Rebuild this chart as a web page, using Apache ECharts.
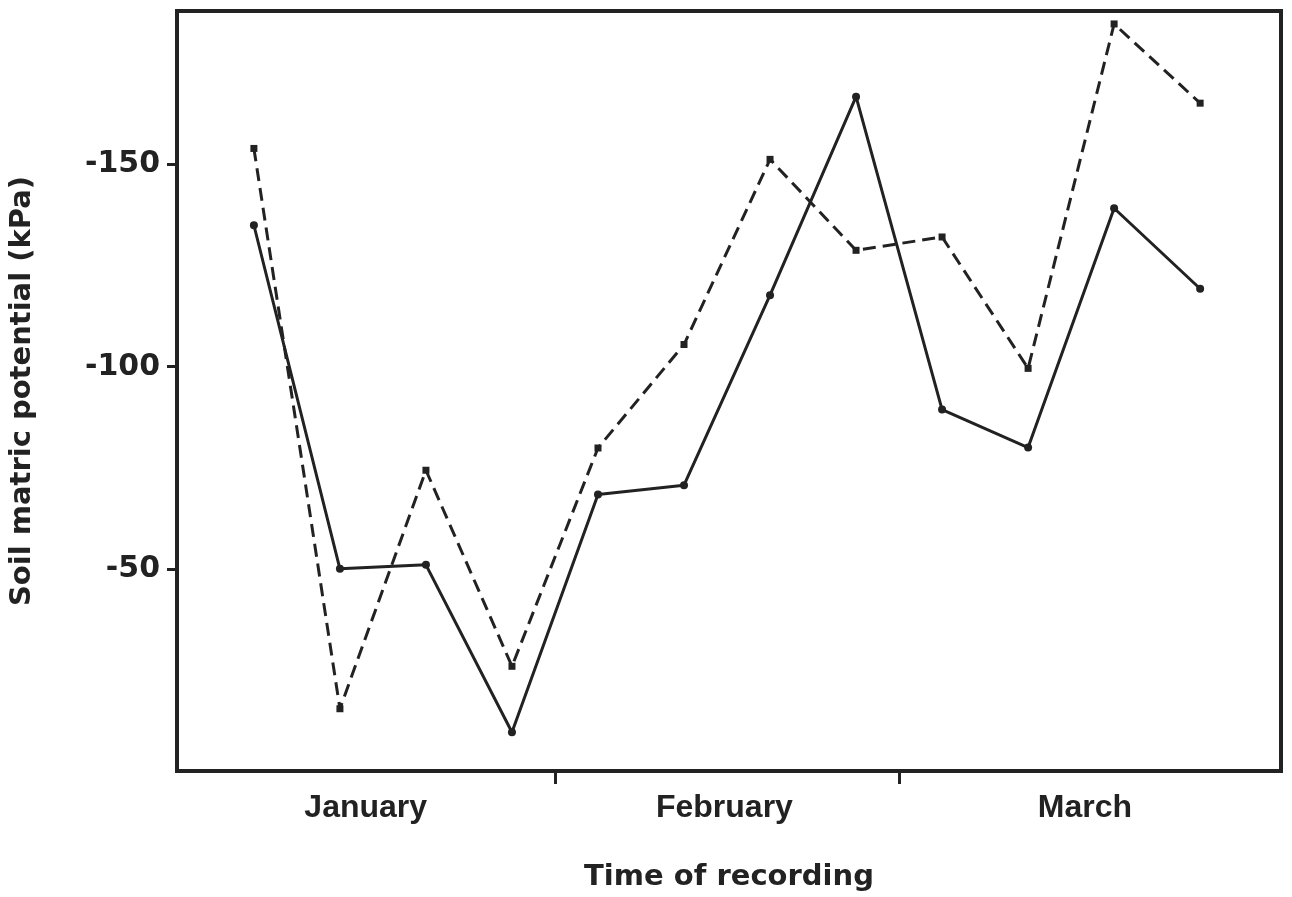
<!DOCTYPE html>
<html>
<head>
<meta charset="utf-8">
<script src="https://cdn.jsdelivr.net/npm/echarts@6/dist/echarts.min.js"></script>
<style>
  html, body { margin: 0; padding: 0; background: #fff; }
  #chart { width: 1292px; height: 897px; }
</style>
</head>
<body>
<div id="chart"></div>
<script>
// Recording sequence: 12 readings, four per month
const recordings = [0, 1, 2, 3, 4, 5, 6, 7, 8, 9, 10, 11];

// Soil matric potential (kPa), solid line with circles
const seriesSolid = [-135, -50, -51, -9.6, -68.4, -70.7, -117.7, -166.8, -89.4, -80, -139.2, -119.3];

// Soil matric potential (kPa), dashed line with squares
const seriesDashed = [-154, -15.4, -74.4, -25.9, -79.9, -105.5, -151.3, -128.8, -132.1, -99.6, -184.8, -165.2];

// Axis annotations
const monthLabels = ['January', 'February', 'March'];
const monthLabelAt = [1.3, 5.47, 9.66];
const monthBoundaries = [3.5, 7.5];
const yTickValues = [-150, -100, -50];

const ink = '#222222';

const chart = echarts.init(document.getElementById('chart'), null, { renderer: 'canvas' });

chart.setOption({
  backgroundColor: '#ffffff',
  animation: false,
  grid: {
    left: 176, right: 11, top: 11, bottom: 126,
    show: true,
    borderColor: ink,
    borderWidth: 4,
    backgroundColor: 'transparent'
  },
  xAxis: {
    type: 'value',
    min: -0.894,
    max: 11.94,
    splitLine: { show: false },
    axisLine: { show: false, onZero: false },
    axisTick: {
      show: true,
      customValues: monthBoundaries,
      length: 13,
      lineStyle: { color: ink, width: 3 }
    },
    axisLabel: {
      show: true,
      customValues: monthLabelAt,
      formatter: function (v) {
        const i = monthLabelAt.indexOf(v);
        return i >= 0 ? monthLabels[i] : '';
      },
      margin: 21,
      color: ink,
      fontFamily: '"Liberation Sans", Arial, sans-serif',
      fontWeight: 'bold',
      fontSize: 32,
      lineHeight: 32
    },
    name: 'Time of recording',
    nameLocation: 'middle',
    nameGap: 92,
    nameTextStyle: {
      color: ink,
      fontFamily: '"DejaVu Sans", sans-serif',
      fontWeight: 'bold',
      fontSize: 29,
      lineHeight: 29
    }
  },
  yAxis: {
    type: 'value',
    inverse: true,
    min: -188,
    max: 0,
    splitLine: { show: false },
    axisLine: { show: false, onZero: false },
    axisTick: {
      show: true,
      customValues: yTickValues,
      length: 10,
      lineStyle: { color: ink, width: 3 }
    },
    axisLabel: {
      show: true,
      customValues: yTickValues,
      margin: 17,
      color: ink,
      fontFamily: '"DejaVu Sans", sans-serif',
      fontWeight: 'bold',
      fontSize: 30
    },
    name: 'Soil matric potential (kPa)',
    nameLocation: 'middle',
    nameGap: 140,
    nameRotate: 90,
    nameTextStyle: {
      color: ink,
      fontFamily: '"DejaVu Sans", sans-serif',
      fontWeight: 'bold',
      fontSize: 29
    }
  },
  series: [
    {
      type: 'line',
      data: recordings.map((r, i) => [r, seriesDashed[i]]),
      symbol: 'rect',
      symbolSize: 7,
      itemStyle: { color: ink },
      lineStyle: { color: ink, width: 3, type: [13, 7] },
      z: 2
    },
    {
      type: 'line',
      data: recordings.map((r, i) => [r, seriesSolid[i]]),
      symbol: 'circle',
      symbolSize: 8,
      itemStyle: { color: ink },
      lineStyle: { color: ink, width: 3 },
      z: 3
    }
  ]
});
</script>
</body>
</html>
